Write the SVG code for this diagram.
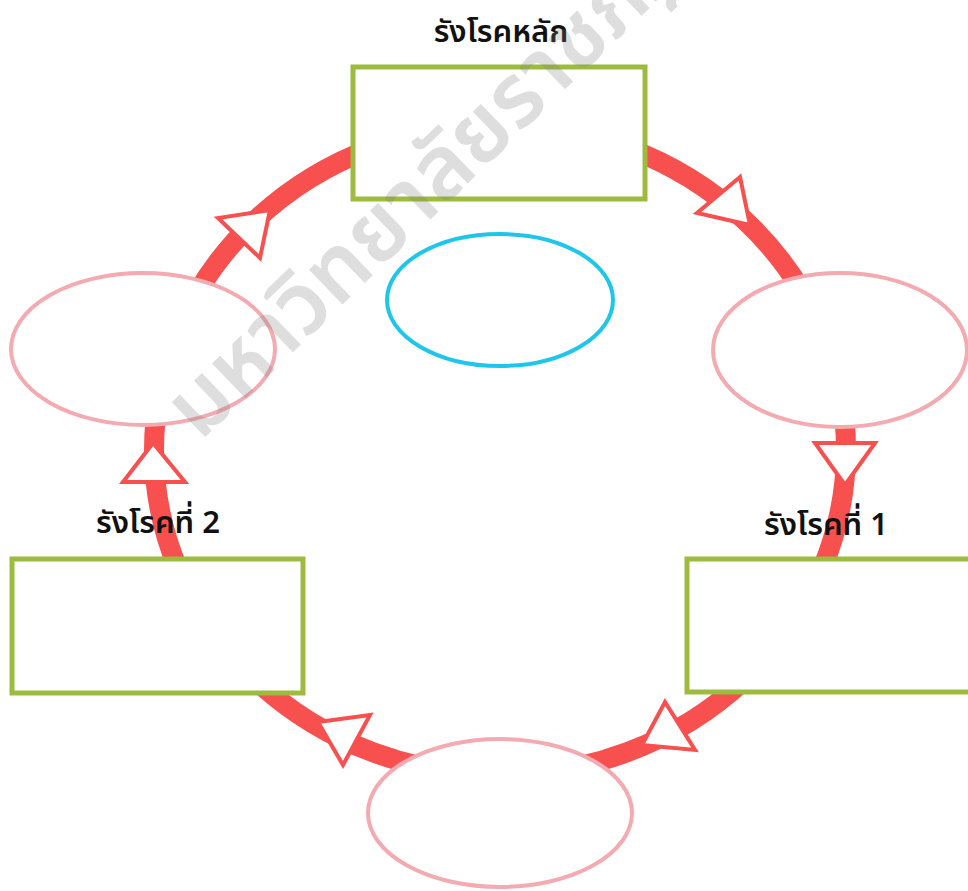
<svg xmlns="http://www.w3.org/2000/svg" width="968" height="891" viewBox="0 0 968 891">
<style>
.ring{fill:none;stroke:#F84F4F;stroke-width:20}
.head{fill:#FFFFFF;stroke:#F84F4F;stroke-width:4;stroke-linejoin:miter}
.box{fill:#FFFFFF;stroke:#9CBB3F;stroke-width:5}
.oval{fill:#FFFFFF;stroke:#F3AAB1;stroke-width:4}
.center{fill:#FFFFFF;stroke:#1EC6E9;stroke-width:4}
.lbl{font-family:"Noto Sans Thai","Leelawadee UI",Tahoma,"Noto Sans","DejaVu Sans",sans-serif;font-size:31px;font-weight:600;fill:#111111}
.wm{font-family:"Noto Sans Thai","Leelawadee UI",Tahoma,"Noto Sans","DejaVu Sans",sans-serif;font-size:88px;font-weight:600;fill:#808080;fill-opacity:0.26}
</style>
<rect x="0" y="0" width="968" height="891" fill="#FFFFFF"/>
<g id="connectors">
<ellipse class="ring" cx="500" cy="450" rx="346" ry="325"/>
<polygon class="head" points="740,177 697,213 750,225"/>
<polygon class="head" points="815,443 875,443 845,485"/>
<polygon class="head" points="642,745 695,750 665,702"/>
<polygon class="head" points="318,722 370,715 343,765"/>
<polygon class="head" points="123,482 185,482 153,443"/>
<polygon class="head" points="218,218 260,258 270,210"/>
</g>
<g id="main-reservoir">
<rect class="box" x="353" y="67" width="292" height="132"/>
<text class="lbl" x="501" y="42" text-anchor="middle">รังโรคหลัก</text>
</g>
<g id="center-oval">
<ellipse class="center" cx="500" cy="300" rx="113" ry="66"/>
</g>
<g id="right-oval">
<ellipse class="oval" cx="840" cy="350" rx="127" ry="77"/>
</g>
<g id="reservoir-1">
<rect class="box" x="687" y="559" width="290" height="133"/>
<text class="lbl" x="826" y="535" text-anchor="middle">รังโรคที่ 1</text>
</g>
<g id="bottom-oval">
<ellipse class="oval" cx="500" cy="813" rx="132" ry="74"/>
</g>
<g id="reservoir-2">
<rect class="box" x="12" y="559" width="291" height="134"/>
<text class="lbl" x="158" y="533" text-anchor="middle">รังโรคที่ 2</text>
</g>
<g id="left-oval">
<ellipse class="oval" cx="143" cy="349" rx="132" ry="76"/>
</g>
<g id="watermark">
<text class="wm" x="200" y="442" transform="rotate(-44 200 442)">มหาวิทยาลัยราชภัฏ</text>
</g>
</svg>
